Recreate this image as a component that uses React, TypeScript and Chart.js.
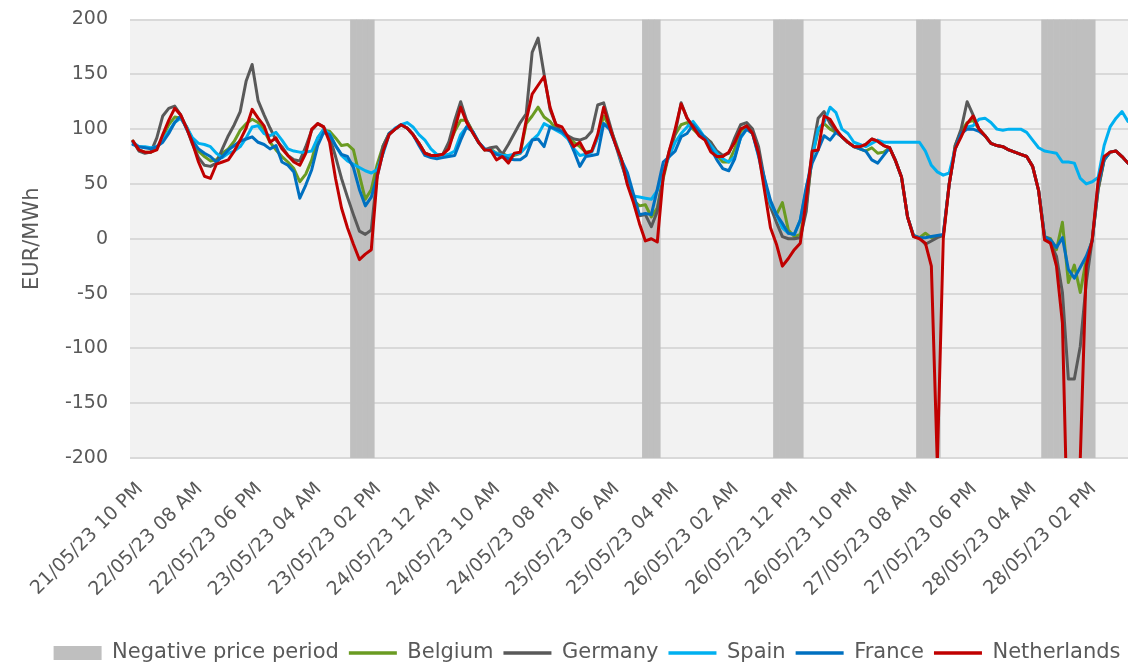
import React, { useEffect, useRef } from 'react';
import { Chart, registerables } from 'chart.js';

Chart.register(...registerables);

// Hourly prices from 21/05/23 10 PM (index 0), EUR/MWh
const tickLabels = [
  '21/05/23 10 PM', '22/05/23 08 AM', '22/05/23 06 PM', '23/05/23 04 AM', '23/05/23 02 PM',
  '24/05/23 12 AM', '24/05/23 10 AM', '24/05/23 08 PM', '25/05/23 06 AM', '25/05/23 04 PM',
  '26/05/23 02 AM', '26/05/23 12 PM', '26/05/23 10 PM', '27/05/23 08 AM', '27/05/23 06 PM',
  '28/05/23 04 AM', '28/05/23 02 PM',
];

const belgium = [
  89, 81, 79, 79, 82, 93, 104, 111, 110, 102,
  90, 80, 75, 71, 72, 78, 82, 89, 99, 105,
  109, 106, 99, 88, 81, 75, 70, 64, 52, 59,
  72, 92, 99, 98, 92, 85, 86, 81, 58, 36,
  45, 68, 85, 96, 100, 104, 101, 95, 87, 78,
  76, 76, 77, 85, 98, 108, 108, 98, 88, 81,
  82, 78, 78, 75, 76, 78, 105, 112, 120, 111,
  107, 100, 97, 93, 88, 84, 79, 80, 93, 112,
  102, 88, 72, 55, 35, 30, 31, 20, 28, 55,
  78, 95, 104, 106, 100, 95, 92, 88, 76, 70,
  70, 82, 98, 103, 96, 80, 50, 30, 22, 33,
  8, 2, 4, 30, 75, 98, 105, 100, 97, 93,
  88, 84, 82, 80, 83, 78, 79, 83, 71, 56,
  20, 3, 1, 5, 1, 2, 3, 50, 85, 98,
  106, 108, 100, 94, 87, 85, 84, 81, 79, 77,
  75, 66, 44, 2, 0, -10, 15, -40, -24, -49,
  -19, -1, 45, 72, 79, 80, 75, 69,
];

const germany = [
  89, 80, 78, 79, 92, 112, 119, 121, 113, 101,
  86, 74, 67, 66, 69, 82, 94, 104, 116, 144,
  159, 126, 113, 101, 90, 84, 76, 72, 71, 84,
  99, 105, 102, 93, 75, 55, 38, 22, 7, 4,
  8, 60, 85, 96, 100, 104, 101, 95, 87, 78,
  76, 76, 77, 88, 108, 125, 108, 97, 88, 81,
  83, 84, 77, 86, 96, 106, 114, 170, 183, 150,
  118, 104, 97, 94, 91, 90, 92, 98, 122, 124,
  105, 86, 68, 52, 38, 21, 22, 11, 25, 58,
  80, 96, 124, 110, 102, 96, 93, 88, 80, 76,
  78, 92, 104, 106, 100, 84, 54, 29, 15, 2,
  0, 0, 1, 25, 80, 110, 116, 105, 98, 93,
  88, 84, 84, 86, 91, 89, 85, 83, 71, 56,
  20, 2, 1, -5, -2, 1, 3, 50, 85, 100,
  125, 113, 100, 94, 87, 85, 84, 81, 79, 77,
  75, 66, 44, 2, -4, -16, -49, -128, -128, -98,
  -40, -1, 45, 72, 79, 80, 75, 69,
];

const spain = [
  88, 84, 84, 83, 84, 90, 98, 106, 110, 102,
  92, 87, 86, 84, 78, 74, 78, 80, 84, 92,
  102, 103, 96, 94, 97, 90, 82, 80, 79, 79,
  80, 92, 100, 96, 85, 76, 71, 68, 65, 62,
  60, 63, 78, 95, 101, 104, 106, 102, 95, 90,
  82, 77, 76, 77, 80, 95, 102, 98, 88, 82,
  81, 78, 76, 76, 77, 78, 84, 90, 95, 105,
  102, 99, 96, 91, 82, 76, 77, 79, 92, 105,
  100, 87, 70, 50, 39, 38, 37, 36, 44, 62,
  75, 88, 96, 102, 107, 100, 92, 85, 78, 73,
  70, 75, 92, 100, 96, 75, 50, 32, 22, 10,
  5, 4, 17, 45, 75, 100, 106, 120, 115, 100,
  96, 88, 86, 84, 87, 90, 88, 88, 88, 88,
  88, 88, 88, 80, 67, 61, 58, 60, 82, 95,
  102, 103, 109, 110, 106, 100, 99, 100, 100, 100,
  97, 90, 83, 80, 79, 78, 70, 70, 69, 55,
  50, 52, 56, 85, 102, 110, 116, 107,
];

const france = [
  86, 84, 83, 82, 84, 88, 96, 106, 112, 100,
  89, 82, 78, 75, 70, 75, 81, 85, 89, 91,
  93, 88, 86, 82, 85, 70, 67, 61, 37, 49,
  63, 85, 97, 95, 85, 77, 75, 65, 45, 30,
  38, 57, 80, 96, 100, 104, 101, 95, 85, 76,
  74, 73, 74, 75, 76, 90, 102, 98, 88, 82,
  80, 77, 75, 73, 72, 72, 76, 90, 91, 84,
  102, 100, 98, 93, 80, 66, 75, 76, 77, 105,
  100, 86, 72, 60, 41, 22, 23, 22, 45, 70,
  75, 80, 93, 96, 104, 98, 92, 82, 72, 64,
  62, 73, 93, 100, 96, 76, 55, 35, 22, 14,
  5, 4, 17, 47, 69, 81, 94, 90, 97, 93,
  88, 84, 82, 80, 72, 69, 76, 83, 71, 56,
  20, 3, 1, 1, 2, 3, 4, 50, 82, 96,
  100, 100, 98, 94, 87, 85, 84, 81, 79, 77,
  75, 66, 44, 2, -1, -8, 1, -28, -36, -26,
  -16, -2, 50, 72, 79, 80, 75, 69,
];

const netherlands = [
  89, 81, 79, 79, 81, 95, 108, 119, 113, 101,
  87, 70, 57, 55, 68, 70, 72, 80, 90, 101,
  118, 110, 103, 88, 92, 82, 76, 70, 67, 78,
  100, 105, 102, 88, 55, 28, 10, -5, -19, -14,
  -10, 57, 80, 95, 100, 104, 101, 95, 87, 78,
  76, 76, 77, 82, 100, 120, 106, 97, 88, 81,
  81, 72, 75, 69, 78, 79, 108, 132, 140, 148,
  120, 104, 102, 93, 84, 88, 78, 80, 95, 120,
  102, 86, 72, 49, 33, 14, -2, 0, -3, 57,
  80, 100, 123, 110, 102, 94, 90, 79, 75, 75,
  79, 88, 100, 103, 96, 78, 44, 10, -5, -25,
  -18, -10, -4, 36, 80, 81, 112, 109, 100, 93,
  88, 84, 84, 86, 91, 89, 85, 83, 71, 56,
  20, 2, 0, -4, -25, -205, 0, 50, 82, 93,
  105, 112, 100, 94, 87, 85, 84, 81, 79, 77,
  75, 66, 44, -1, -4, -25, -77, -300, -300, -200,
  -25, -1, 53, 75, 79, 80, 75, 69,
];

// Negative price periods: [first hour index, last hour index]
const negativePeriods = [
  [37, 40],
  [86, 88],
  [108, 112],
  [132, 135],
  [153, 161],
];

const FONT = "'DejaVu Sans', Verdana, sans-serif";
const TEXT = '#595959';
const PAD_LEFT = 43.6;
const PAD_RIGHT = -42; // lets the legend row use the width of the (cropped) source chart
const X_MAX = (1128 - 130) / 5.958 - 0.5;

export default function App() {
  const canvasRef = useRef<HTMLCanvasElement | null>(null);

  useEffect(() => {
    if (!canvasRef.current) return;
    const toXY = (arr: number[]) => arr.map((y, i) => ({ x: i, y }));
    const bandData: { x: number; y: number[] }[] = [];
    negativePeriods.forEach(([a, b]) => {
      for (let i = a; i <= b; i++) bandData.push({ x: i, y: [-200, 200] });
    });

    const plotBg = {
      id: 'plotBg',
      beforeDraw(chart: any) {
        const { ctx, chartArea } = chart;
        if (!chartArea) return;
        ctx.save();
        ctx.fillStyle = '#f2f2f2';
        ctx.fillRect(chartArea.left, chartArea.top, chartArea.right - chartArea.left, chartArea.bottom - chartArea.top);
        ctx.restore();
      },
    };

    const lineDs = (label: string, data: number[], color: string, order: number) => ({
      type: 'line' as const,
      label,
      data: toXY(data),
      borderColor: color,
      backgroundColor: color,
      borderWidth: 3,
      pointRadius: 0,
      pointHoverRadius: 0,
      tension: 0,
      borderJoinStyle: 'round' as const,
      borderCapStyle: 'round' as const,
      order,
      clip: 0,
    });

    const chart = new Chart(canvasRef.current, {
      type: 'line',
      data: {
        datasets: [
          {
            type: 'bar',
            label: 'Negative price period',
            data: bandData as any,
            backgroundColor: '#bfbfbf',
            borderWidth: 0,
            barPercentage: 1,
            categoryPercentage: 1,
            order: 10,
          } as any,
          lineDs('Belgium', belgium, '#6a9b22', 5),
          lineDs('Germany', germany, '#595959', 4),
          lineDs('Spain', spain, '#00b0f0', 3),
          lineDs('France', france, '#0070c0', 2),
          lineDs('Netherlands', netherlands, '#c00000', 1),
        ],
      },
      options: {
        animation: false,
        responsive: false,
        events: [],
        layout: { padding: { left: PAD_LEFT, right: PAD_RIGHT, top: 19.5, bottom: -5.5 } },
        scales: {
          x: {
            type: 'linear',
            offset: false,
            min: -0.5,
            max: X_MAX,
            grid: { display: false, drawTicks: false, offset: false },
            border: { display: false },
            afterBuildTicks: (scale: any) => {
              scale.ticks = tickLabels.map((_, k) => ({ value: k * 10 }));
            },
            afterFit: (scale: any) => {
              scale.height = 174.5;
              scale.paddingLeft = 0;
              scale.paddingRight = 0;
            },
            ticks: {
              autoSkip: false,
              minRotation: 45,
              maxRotation: 45,
              padding: 20,
              labelOffset: 7,
              color: TEXT,
              font: { family: FONT, size: 19 },
              callback: (value: any) => tickLabels[Math.round(Number(value) / 10)] ?? '',
            },
          },
          y: {
            min: -200,
            max: 200,
            grid: { color: '#d9d9d9', lineWidth: 2, drawTicks: false },
            border: { display: false },
            afterFit: (scale: any) => {
              scale.width = 130 - PAD_LEFT;
              scale.paddingTop = 0;
              scale.paddingBottom = 0;
            },
            ticks: {
              stepSize: 50,
              padding: 22,
              color: TEXT,
              font: { family: FONT, size: 19 },
            },
            title: {
              display: true,
              text: 'EUR/MWh',
              color: TEXT,
              font: { family: FONT, size: 21 },
              padding: { top: 33 - PAD_LEFT - 12.6, bottom: 0 },
            },
          },
        },
        plugins: {
          tooltip: { enabled: false },
          legend: {
            position: 'bottom',
            align: 'start',
            labels: {
              usePointStyle: true,
              pointStyleWidth: 48,
              boxHeight: 14,
              padding: 10,
              color: TEXT,
              font: { family: FONT, size: 21 },
              generateLabels: (ch: any) =>
                ch.data.datasets.map((ds: any, i: number) => {
                  const isBar = ds.type === 'bar';
                  return {
                    text: ds.label,
                    datasetIndex: i,
                    hidden: false,
                    fillStyle: isBar ? '#bfbfbf' : ds.borderColor,
                    strokeStyle: isBar ? '#bfbfbf' : ds.borderColor,
                    lineWidth: isBar ? 0 : 3.5,
                    pointStyle: isBar ? 'rect' : 'line',
                    fontColor: TEXT,
                  };
                }),
            },
          },
        },
      },
      plugins: [plotBg],
    } as any);

    return () => chart.destroy();
  }, []);

  return (
    <div style={{ position: 'absolute', left: 0, top: 0, width: 1128, height: 668, overflow: 'hidden', background: '#ffffff' }}>
      <canvas ref={canvasRef} width={1128} height={668} style={{ width: 1128, height: 668, display: 'block' }} />
    </div>
  );
}
